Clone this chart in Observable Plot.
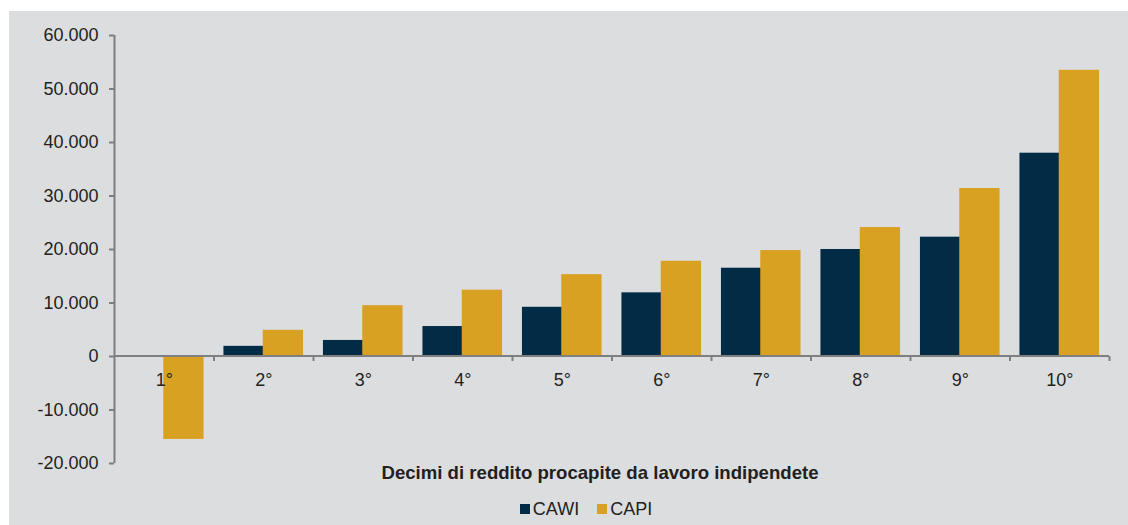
<!DOCTYPE html>
<html>
<head>
<meta charset="utf-8">
<script src="https://cdn.jsdelivr.net/npm/d3@7"></script>
<script src="https://cdn.jsdelivr.net/npm/@observablehq/plot@0.6"></script>
<style>
  html, body { margin: 0; padding: 0; background: #ffffff; }
  body { width: 1128px; height: 525px; position: relative; overflow: hidden; font-family: "Liberation Sans", Arial, sans-serif; color: #231f20; }
  #panel { position: absolute; left: 9px; top: 11px; width: 1119px; height: 514px; background: #dcdddf; }
  #chart { position: absolute; left: 0; top: 0; }
  #chart svg { overflow: visible; background: transparent; }
  #xtitle { position: absolute; left: 191px; width: 800px; top: 451px; text-align: center; font-weight: bold; font-size: 18.6px; line-height: 22px; }
  #legend { position: absolute; left: 377px; width: 400px; top: 487px; display: flex; justify-content: center; align-items: center; font-size: 18px; line-height: 22px; }
  .sw { display: inline-block; width: 10px; height: 10px; margin-right: 3px; }
  .item { display: inline-flex; align-items: center; margin: 0 9px; }
</style>
</head>
<body>
<div id="panel">
  <div id="chart"></div>
  <div id="xtitle">Decimi di reddito procapite da lavoro indipendete</div>
  <div id="legend"></div>
</div>
<script>
const deciles = ["1°", "2°", "3°", "4°", "5°", "6°", "7°", "8°", "9°", "10°"];
const cawi = [0, 1900, 3000, 5600, 9200, 11900, 16500, 20000, 22300, 38000];
const capi = [-15500, 4900, 9500, 12400, 15300, 17800, 19800, 24100, 31400, 53500];
const series = ["CAWI", "CAPI"];
const colors = ["#022b45", "#d9a122"];
const yTicks = [-20000, -10000, 0, 10000, 20000, 30000, 40000, 50000, 60000];

const rows = [];
deciles.forEach((d, i) => {
  rows.push({decile: d, series: "CAWI", value: cawi[i]});
  rows.push({decile: d, series: "CAPI", value: capi[i]});
});

const locale = d3.formatLocale({decimal: ",", thousands: ".", grouping: [3], currency: ["", " €"], minus: "-"});
const fmt = locale.format(",.0f");

const W = 1119, mL = 105, mR = 19, mT = 24, mB = 10, H = 462;
const bw = (W - mL - mR) / deciles.length;
const pad = bw * 0.1;
const half = bw / 2;
const axisColor = "#7f7f7f";
const tickLen = 5 * (yTicks[yTicks.length - 1] - yTicks[0]) / (H - mT - mB);
const first = deciles[0], last = deciles[deciles.length - 1];

const plot = Plot.plot({
  width: W,
  height: H,
  marginLeft: mL,
  marginRight: mR,
  marginTop: mT,
  marginBottom: mB,
  style: {background: "transparent", fontFamily: "Liberation Sans, Arial, sans-serif", color: "#231f20", overflow: "visible"},
  x: {domain: deciles, padding: 0, round: false, axis: null},
  y: {domain: [yTicks[0], yTicks[yTicks.length - 1]], axis: null},
  marks: [
    Plot.barY(rows.filter(r => r.series === "CAWI" && r.value !== 0), {
      x: "decile", y: "value", fill: colors[0], insetLeft: pad, insetRight: half - 0.5
    }),
    Plot.barY(rows.filter(r => r.series === "CAPI"), {
      x: "decile", y: "value", fill: colors[1], insetLeft: half - 0.5, insetRight: pad
    }),
    Plot.axisY(yTicks, {
      label: null, tickFormat: fmt, tickSize: 5, tickPadding: 11, fontSize: 18, stroke: axisColor, strokeWidth: 2, fill: "#231f20"
    }),
    Plot.ruleX([first], {dx: -half, y1: yTicks[0], y2: yTicks[yTicks.length - 1], stroke: axisColor, strokeWidth: 2}),
    Plot.link([0], {x1: () => first, x2: () => last, y1: 0, y2: 0, stroke: axisColor, strokeWidth: 2, ariaLabel: "zero-axis"}),
    Plot.ruleX(deciles.slice(1), {dx: -half, y1: 0, y2: -tickLen, stroke: axisColor, strokeWidth: 2}),
    Plot.ruleX([last], {dx: half, y1: 0, y2: -tickLen, stroke: axisColor, strokeWidth: 2}),
    Plot.text(deciles, {x: d => d, y: 0, dy: 24, fontSize: 18, fill: "#231f20"})
  ]
});
document.getElementById("chart").appendChild(plot);

// zero line: from the start of the first band to the end of the last band
// (band-scale apply() gives the band start; drop the band-centering translate Plot puts on the link group)
const xs = plot.scale("x");
const y0 = plot.scale("y").apply(0);
const xa = xs.apply(first);
const xb = xs.apply(last) + xs.bandwidth;
plot.querySelectorAll("g[aria-label='zero-axis'], g[aria-label='link']").forEach(g => {
  g.removeAttribute("transform");
  g.querySelectorAll("path").forEach(el => {
    el.removeAttribute("transform");
    el.setAttribute("d", `M${xa},${y0}L${xb},${y0}`);
  });
});

const legend = document.getElementById("legend");
series.forEach((s, i) => {
  const item = document.createElement("span");
  item.className = "item";
  const sw = document.createElement("span");
  sw.className = "sw";
  sw.style.background = colors[i];
  item.appendChild(sw);
  item.appendChild(document.createTextNode(s));
  legend.appendChild(item);
});
</script>
</body>
</html>
